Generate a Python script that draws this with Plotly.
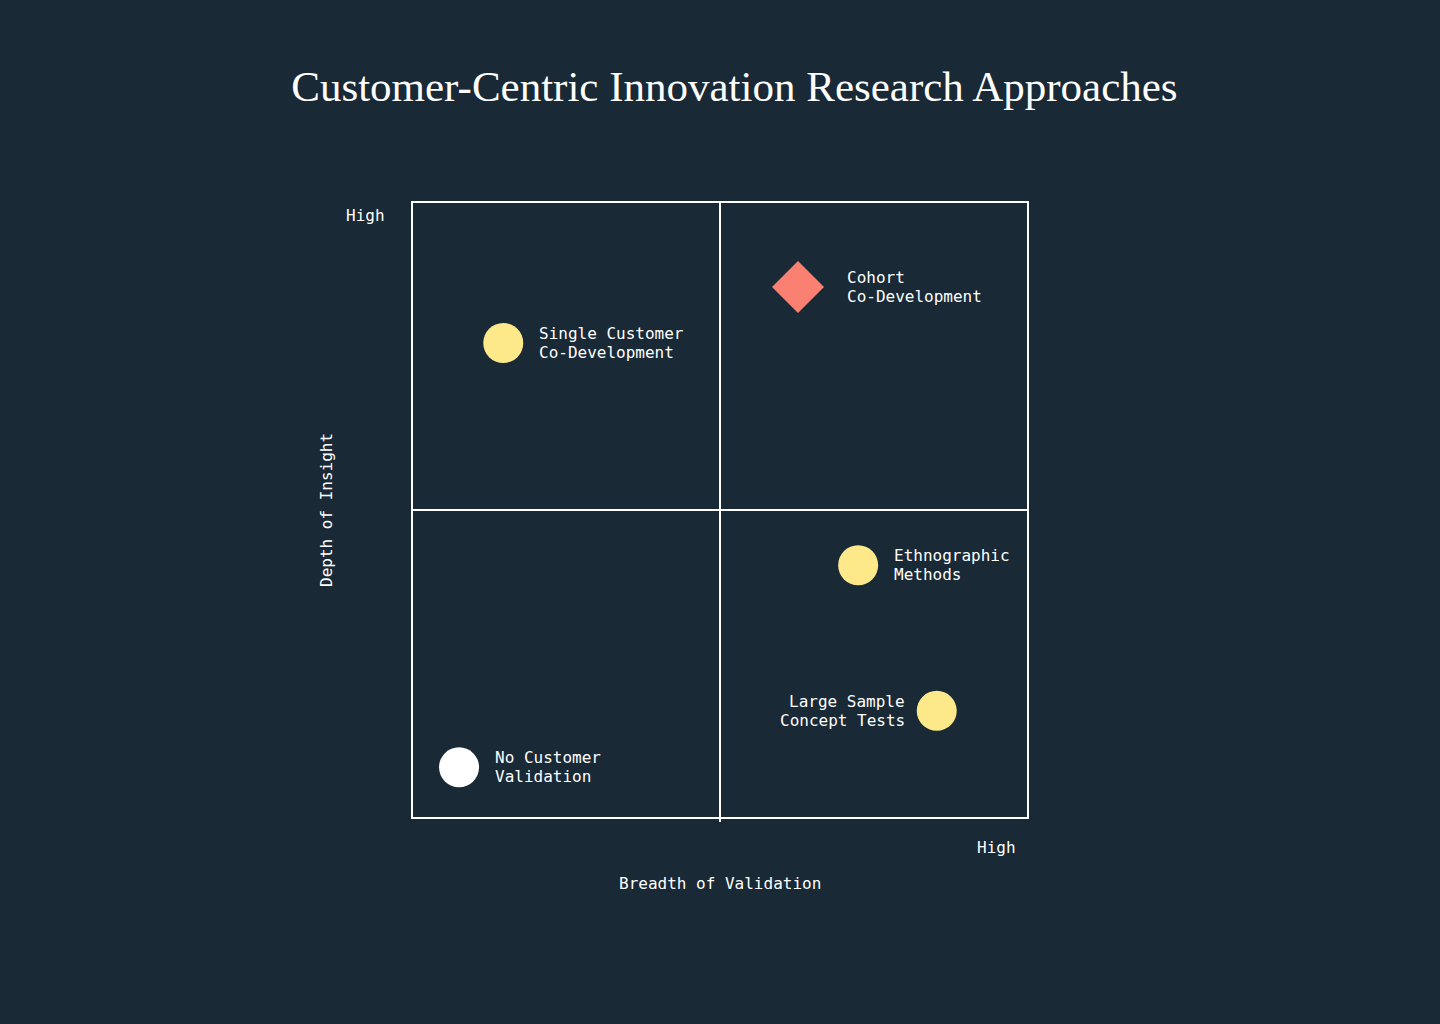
import plotly.graph_objects as go

# approaches placed on the 2x2 matrix (0..1 on both axes)
approaches = [
    "No Customer<br>Validation",
    "Single Customer<br>Co-Development",
    "Cohort<br>Co-Development",
    "Ethnographic<br>Methods",
    "Large Sample<br>Concept Tests",
]
breadth = [0.075, 0.147, 0.627, 0.725, 0.853]
depth = [0.081, 0.772, 0.863, 0.41, 0.173]

x_title = "Breadth of Validation"
y_title = "Depth of Insight"
high_label = "High"
title = "Customer-Centric Innovation Research Approaches"

BG = "#192936"
MONO = "DejaVu Sans Mono"
LINE_GAP = 19  # px between the two lines of a point label

# per-point look: colour, symbol, which side the label goes
style = {
    "No Customer<br>Validation": ("#ffffff", "circle", "right"),
    "Single Customer<br>Co-Development": ("#fde98a", "circle", "right"),
    "Cohort<br>Co-Development": ("#fa8072", "diamond", "right"),
    "Ethnographic<br>Methods": ("#fde98a", "circle", "right"),
    "Large Sample<br>Concept Tests": ("#fde98a", "circle", "left"),
}

fig = go.Figure()

fig.add_trace(go.Scatter(
    x=breadth, y=depth, mode="markers",
    marker=dict(
        size=40,
        color=[style[a][0] for a in approaches],
        symbol=[style[a][1] for a in approaches],
        line=dict(width=0),
    ),
    hoverinfo="skip", showlegend=False,
))

annotations = []
for name, bx, dy in zip(approaches, breadth, depth):
    col, sym, side = style[name]
    gap = 47 if sym == "diamond" else 34
    lines = name.split("<br>")
    n = len(lines)
    for i, line in enumerate(lines):
        ys = ((n - 1) / 2 - i) * LINE_GAP
        if side == "right":
            annotations.append(dict(x=bx, y=dy, text=line, showarrow=False,
                                    xanchor="left", xshift=gap,
                                    yanchor="middle", yshift=ys))
        else:
            annotations.append(dict(x=bx, y=dy, text=line, showarrow=False,
                                    xanchor="right", xshift=-30,
                                    yanchor="middle", yshift=ys))

# axis end labels and axis titles
annotations += [
    dict(xref="paper", yref="paper", x=0, y=1, text=high_label, showarrow=False,
         xanchor="right", yanchor="middle", xshift=-26, yshift=-12),
    dict(xref="paper", yref="paper", x=1, y=0, text=high_label, showarrow=False,
         xanchor="right", yanchor="middle", xshift=-9, yshift=-30),
    dict(xref="paper", yref="paper", x=0.5, y=0, text=x_title, showarrow=False,
         xanchor="center", yanchor="middle", yshift=-66),
    dict(xref="paper", yref="paper", x=0, y=0.5, text=y_title, showarrow=False,
         xanchor="center", yanchor="middle", xshift=-87, textangle=-90),
]

# quadrant dividers
shapes = [
    dict(type="line", xref="x", yref="y", x0=0.5, x1=0.5, y0=0, y1=1,
         line=dict(color="white", width=2)),
    dict(type="line", xref="x", yref="y", x0=0, x1=1, y0=0.5, y1=0.5,
         line=dict(color="white", width=2)),
]

fig.update_layout(
    width=1440, height=1024,
    paper_bgcolor=BG, plot_bgcolor=BG,
    margin=dict(l=413, r=413, t=203, b=207),
    font=dict(family=MONO, size=16, color="white"),
    title=dict(text=title, x=0.51, xanchor="center", y=1 - 86 / 1024, yanchor="middle",
               font=dict(family="Liberation Serif", size=43, color="white")),
    annotations=annotations,
    shapes=shapes,
)
fig.update_xaxes(range=[0, 1], showgrid=False, zeroline=False, showline=True,
                 linecolor="white", linewidth=2, mirror=True,
                 tickvals=[0.5], ticktext=[""], ticks="outside", ticklen=3,
                 tickcolor="white", tickwidth=2, fixedrange=True)
fig.update_yaxes(range=[0, 1], showgrid=False, zeroline=False, showline=True,
                 linecolor="white", linewidth=2, mirror=True,
                 showticklabels=False, fixedrange=True)

# drop the browser's default page margin so the figure fills the window
fig.write_html("out.html", config={"displayModeBar": False},
               post_script="document.body.style.margin='0';"
                           "document.body.style.background='" + BG + "';")
